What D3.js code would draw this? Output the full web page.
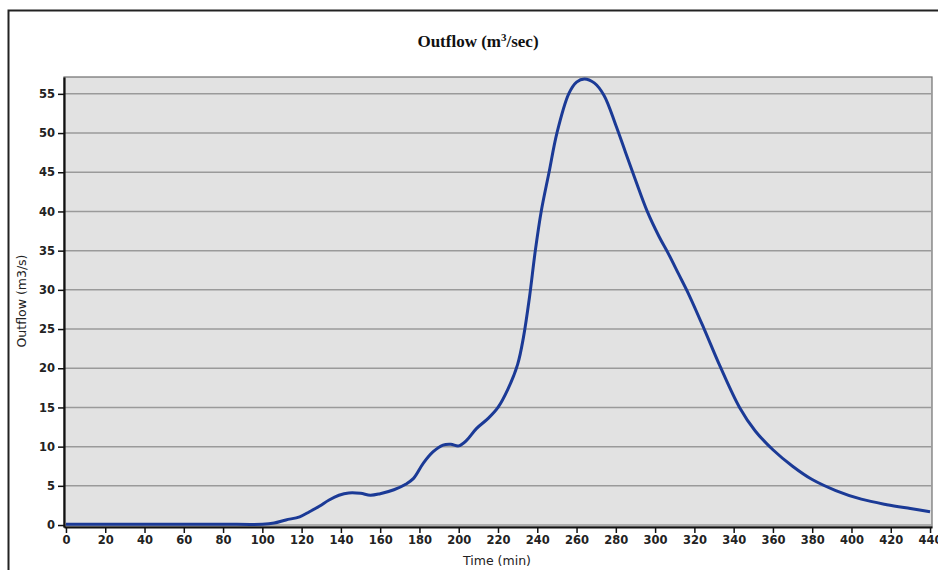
<!DOCTYPE html>
<html>
<head>
<meta charset="utf-8">
<title>Outflow</title>
<script src="https://cdn.jsdelivr.net/npm/d3@7"></script>
<style>
  body { margin: 0; background: #fff; }
  .tick text { font-family: "DejaVu Sans", sans-serif; font-size: 11.5px; font-weight: bold; fill: #222; }
  .tick line { stroke: #111; stroke-width: 1.5; }
  .grid line { stroke: #9a9a9a; stroke-width: 1.5; }
</style>
</head>
<body>
<svg id="chart" width="938" height="570"></svg>
<script>
// time (min) and outflow (m3/s)
var times = [0, 20, 40, 60, 80, 100, 106, 112, 119, 124, 129, 134, 139, 144, 150, 155, 160, 167, 173, 177,
  182, 187, 192, 196, 200, 204, 209, 215, 220, 225, 230, 233, 236, 239, 242, 246, 250, 256, 260, 264,
  269, 274, 280, 285, 290, 296, 302, 307, 312, 317, 325, 333, 343, 351, 360, 370, 380, 392, 405, 418, 430, 440];
var outflow = [0.1, 0.1, 0.1, 0.1, 0.1, 0.1, 0.25, 0.65, 1.05, 1.7, 2.4, 3.2, 3.8, 4.1, 4.05, 3.8, 4.0, 4.5, 5.2, 5.95,
  7.9, 9.35, 10.2, 10.3, 10.1, 10.8, 12.3, 13.6, 15, 17.3, 20.5, 24, 29, 35, 40, 45, 50, 55, 56.5, 56.9,
  56.4, 54.8, 51, 47.5, 44, 40, 36.8, 34.5, 32, 29.5, 25, 20.3, 15, 12, 9.6, 7.5, 5.8, 4.4, 3.3, 2.6, 2.1, 1.7];
var xTicks = d3.range(0, 441, 20);
var yTicks = d3.range(0, 56, 5);

var svg = d3.select("#chart");
var pLeft = 64, pTop = 77, pRight = 932, pBottom = 527;

var x = d3.scaleLinear().domain([-1, 441]).range([pLeft, pRight]);
var y = d3.scaleLinear().domain([-0.25, 57.15]).range([pBottom, pTop]);

// outer frame
svg.append("rect")
  .attr("x", 8.5).attr("y", 10.5)
  .attr("width", 960).attr("height", 600)
  .attr("fill", "none").attr("stroke", "#222").attr("stroke-width", 2);

// title
var title = svg.append("text")
  .attr("x", 478).attr("y", 47)
  .attr("text-anchor", "middle")
  .style("font-family", "'Liberation Serif', 'Times New Roman', serif")
  .style("font-size", "17px").style("font-weight", "bold").style("fill", "#111");
title.append("tspan").text("Outflow (m");
title.append("tspan").attr("dy", -6).style("font-size", "11px").text("3");
title.append("tspan").attr("dy", 6).text("/sec)");

// plot background
svg.append("rect")
  .attr("x", pLeft).attr("y", pTop)
  .attr("width", pRight - pLeft).attr("height", pBottom - pTop)
  .attr("fill", "#e2e2e2").attr("stroke", "#6e6e6e").attr("stroke-width", 1.2);

// grid
svg.append("g").attr("class", "grid")
  .selectAll("line").data(yTicks).join("line")
  .attr("x1", pLeft).attr("x2", pRight)
  .attr("y1", function(d) { return y(d); }).attr("y2", function(d) { return y(d); });

// curve
var line = d3.line()
  .x(function(d, i) { return x(times[i]); })
  .y(function(d) { return y(d); })
  .curve(d3.curveCatmullRom.alpha(0.5));

svg.append("path")
  .datum(outflow)
  .attr("d", line)
  .attr("fill", "none")
  .attr("stroke", "#1b3a96")
  .attr("stroke-width", 3);

// axes
var xAxis = svg.append("g")
  .attr("transform", "translate(0," + pBottom + ")")
  .call(d3.axisBottom(x).tickValues(xTicks).tickSize(6).tickSizeOuter(0).tickPadding(3));
var yAxis = svg.append("g")
  .attr("transform", "translate(" + pLeft + ",0)")
  .call(d3.axisLeft(y).tickValues(yTicks).tickSize(6).tickSizeOuter(0).tickPadding(3));
[xAxis, yAxis].forEach(function(a) {
  a.select(".domain").attr("stroke", "#111").attr("stroke-width", 2.2);
});

// axis titles
svg.append("text")
  .attr("x", 497).attr("y", 565)
  .attr("text-anchor", "middle")
  .style("font-family", "'DejaVu Sans', sans-serif").style("font-size", "12.5px").style("fill", "#222")
  .text("Time (min)");
svg.append("text")
  .attr("transform", "translate(26,301) rotate(-90)")
  .attr("text-anchor", "middle")
  .style("font-family", "'DejaVu Sans', sans-serif").style("font-size", "12.5px").style("fill", "#222")
  .text("Outflow (m3/s)");
</script>
</body>
</html>
